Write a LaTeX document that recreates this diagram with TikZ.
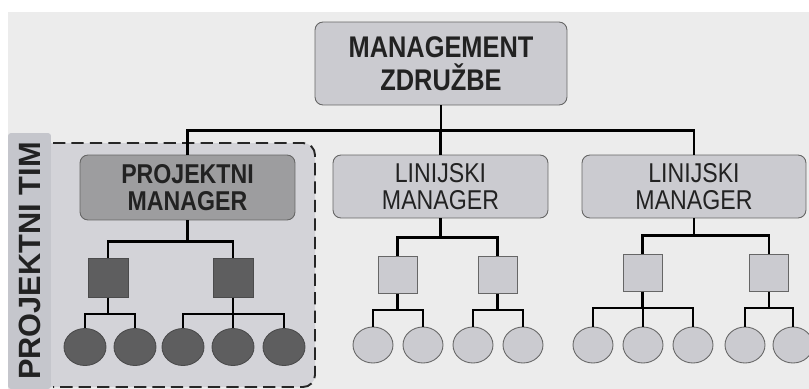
\documentclass[tikz,border=0pt]{standalone}
\usepackage{fontspec}
\setmainfont{Liberation Sans}[FakeStretch=0.85]
\newfontfamily\stripfont{Liberation Sans}
\usetikzlibrary{shapes.geometric}

\definecolor{bgcol}{HTML}{ECECEC}
\definecolor{boxcol}{HTML}{CBCBD0}
\definecolor{darkbox}{HTML}{9D9D9F}
\definecolor{unitcol}{HTML}{5E5E5F}
\definecolor{teamcol}{HTML}{D3D3D8}
\definecolor{stripcol}{HTML}{C5C6CC}
\definecolor{txtcol}{HTML}{222222}

\begin{document}
\begin{tikzpicture}[
  x=0.02cm, y=-0.02cm, line width=1.35pt,
  mgr/.style={rectangle, rounded corners=0.16cm, draw=gray!80!black, line width=0.5pt,
    fill=boxcol, text=txtcol, align=center, inner sep=0pt,
    minimum width=4.3cm, minimum height=1.26cm, font=\fontsize{15.5}{15.5}\selectfont},
  pmgr/.style={mgr, fill=darkbox, font=\fontsize{15.5}{15.5}\selectfont\bfseries},
  unit/.style={rectangle, draw=gray!80!black, line width=0.5pt, fill=boxcol,
    minimum width=0.78cm, minimum height=0.74cm, inner sep=0pt},
  punit/.style={unit, fill=unitcol, draw=unitcol!80!black, minimum width=0.8cm, minimum height=0.78cm},
  member/.style={ellipse, draw=gray!80!black, line width=0.5pt, fill=boxcol,
    minimum width=0.8cm, minimum height=0.72cm, inner sep=0pt},
  pmember/.style={member, fill=unitcol, draw=unitcol!80!black, minimum width=0.84cm, minimum height=0.74cm},
  team/.style={dashed, dash pattern=on 7pt off 3.5pt, line width=1.1pt, draw=black!85},
  strip/.style={rectangle, rounded corners=0.06cm, fill=stripcol, rotate=90, text=txtcol,
    minimum width=5.12cm, minimum height=0.86cm, inner sep=0pt,
    font=\stripfont\fontsize{17.5}{17}\selectfont\bfseries}
]
  \useasboundingbox (0,0) rectangle (809,389);
  \fill[bgcol] (8,12) rectangle (809,389);

  % projektni tim: ozadje in crtkan rob
  \fill[teamcol, rounded corners=0.24cm] (30,143) -- (315,143) -- (315,387) -- (30,387) -- cycle;
  \draw[team] (53,143) [rounded corners=0.24cm] -- (315,143) -- (315,387) -- (53,387);
  \node[strip] (tim) at (29.5,261) {PROJEKTNI TIM};

  % vodstvo
  \node[mgr, minimum width=5.04cm, minimum height=1.66cm, font=\fontsize{17}{18.7}\selectfont\bfseries]
    (mgmt) at (441,63.5) {MANAGEMENT\\ZDRUŽBE};
  \node[pmgr, minimum height=1.3cm] (pm) at (187.5,187.5) {PROJEKTNI\\MANAGER};
  \node[mgr] (lm1) at (440.5,186.5) {LINIJSKI\\MANAGER};
  \node[mgr, minimum width=4.48cm] (lm2) at (694,186.5) {LINIJSKI\\MANAGER};

  \draw (mgmt.south) -- ++(0,25) -| (pm.north);
  \draw (mgmt.south) -- ++(0,25) -| (lm1.north);
  \draw (mgmt.south) -- ++(0,25) -| (lm2.north);

  % enote
  \node[punit] (pa) at (108,278) {};
  \node[punit] (pb) at (233,278) {};
  \node[unit] (la) at (397.5,275) {};
  \node[unit] (lb) at (497.5,275) {};
  \node[unit] (ra) at (642.5,273) {};
  \node[unit] (rb) at (769,273) {};

  \foreach \u in {pa,pb} \draw (pm.south) -- ++(0,21) -| (\u.north);
  \foreach \u in {la,lb} \draw (lm1.south) -- ++(0,19) -| (\u.north);
  \foreach \u in {ra,rb} \draw (lm2.south) -- ++(0,17) -| (\u.north);

  % clani
  \node[pmember] (p1) at (85,347) {};
  \node[pmember] (p2) at (135,347) {};
  \node[pmember] (p3) at (183,347) {};
  \node[pmember] (p4) at (233,347) {};
  \node[pmember] (p5) at (284,347) {};
  \node[member] (l1) at (373,345) {};
  \node[member] (l2) at (423,345) {};
  \node[member] (l3) at (473,345) {};
  \node[member] (l4) at (523,345) {};
  \node[member] (r1) at (593,345) {};
  \node[member] (r2) at (643,345) {};
  \node[member] (r3) at (693,345) {};
  \node[member] (r4) at (745,345) {};
  \node[member] (r5) at (793,345) {};

  \foreach \m in {p1,p2} \draw (pa.south) -- ++(0,16) -| (\m.north);
  \foreach \m in {p3,p4,p5} \draw (pb.south) -- ++(0,16) -| (\m.north);
  \foreach \m in {l1,l2} \draw (la.south) -- ++(0,16) -| (\m.north);
  \foreach \m in {l3,l4} \draw (lb.south) -- ++(0,16) -| (\m.north);
  \foreach \m in {r1,r2,r3} \draw (ra.south) -- ++(0,16) -| (\m.north);
  \foreach \m in {r4,r5} \draw (rb.south) -- ++(0,16) -| (\m.north);
\end{tikzpicture}
\end{document}
